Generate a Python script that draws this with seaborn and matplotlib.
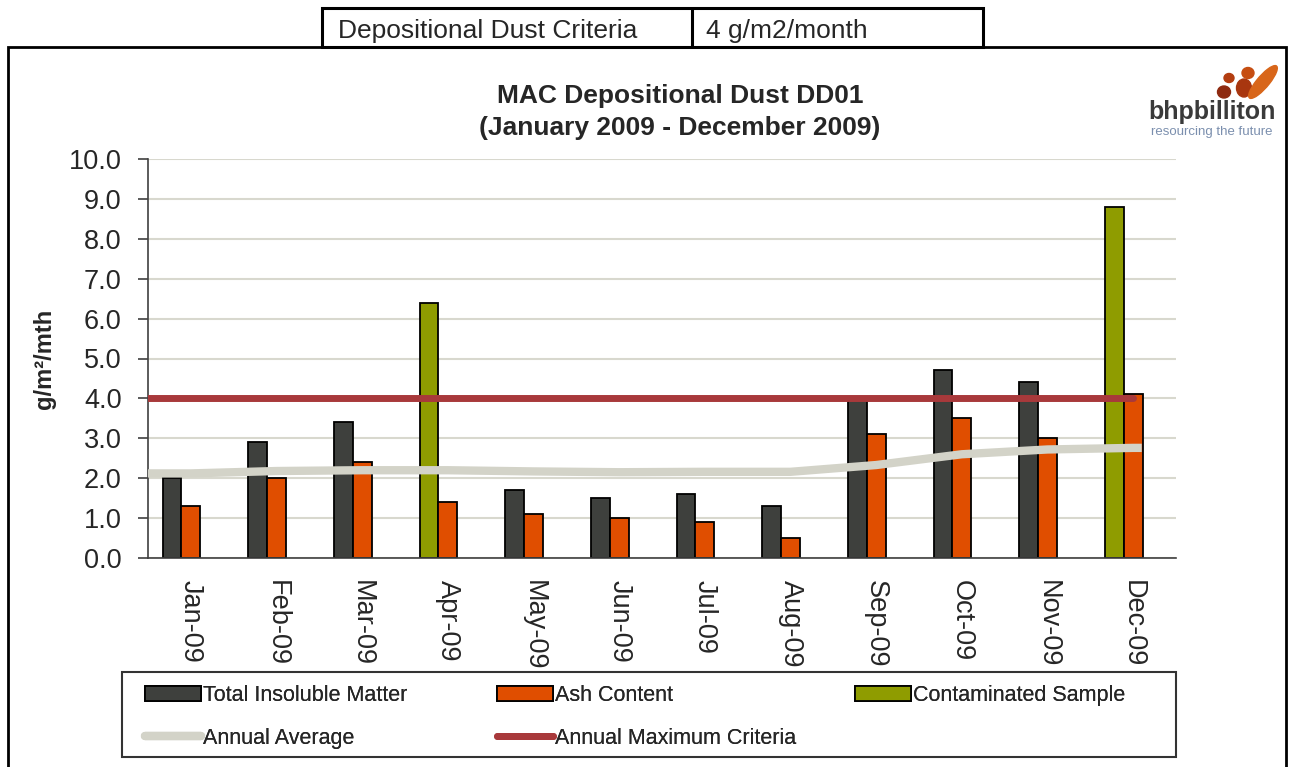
import numpy as np
import matplotlib
matplotlib.use("Agg")
import matplotlib.pyplot as plt
import seaborn as sns
from matplotlib.patches import Patch, Rectangle, Ellipse
from matplotlib.lines import Line2D

# === data ===
months = ["Jan-09", "Feb-09", "Mar-09", "Apr-09", "May-09", "Jun-09",
          "Jul-09", "Aug-09", "Sep-09", "Oct-09", "Nov-09", "Dec-09"]
total_insoluble = [2.0, 2.9, 3.4, np.nan, 1.7, 1.5, 1.6, 1.3, 4.0, 4.7, 4.4, np.nan]
contaminated = [np.nan, np.nan, np.nan, 6.4, np.nan, np.nan,
                np.nan, np.nan, np.nan, np.nan, np.nan, 8.8]
ash_content = [1.3, 2.0, 2.4, 1.4, 1.1, 1.0, 0.9, 0.5, 3.1, 3.5, 3.0, 4.1]
annual_average = [2.12, 2.18, 2.2, 2.2, 2.17, 2.15, 2.16, 2.16, 2.33, 2.6, 2.72, 2.76]
annual_max_criteria = 4.0

c_tim = "#3e403d"
c_ash = "#e04e00"
c_cont = "#8f9c00"
c_avg = "#d3d3c8"
c_max = "#a8393b"

sns.set_style("white")
plt.rcParams["font.family"] = ["Liberation Sans", "DejaVu Sans"]

W, H = 1294, 767
fig = plt.figure(figsize=(W / 100, H / 100), dpi=100)
ax = fig.add_axes([148 / W, 1 - 558 / H, (1176 - 148) / W, (558 - 159) / H])

bar_w = 0.22
bar_kw = dict(order=months, width=bar_w, edgecolor="black", linewidth=1.3,
              saturation=1, ax=ax, zorder=2)

# total insoluble + contaminated sit left of centre, ash at centre
n0 = len(ax.patches)
sns.barplot(x=months, y=total_insoluble, color=c_tim, **bar_kw)
sns.barplot(x=months, y=contaminated, color=c_cont, **bar_kw)
for p in ax.patches[n0:]:
    p.set_x(p.get_x() - bar_w)
sns.barplot(x=months, y=ash_content, color=c_ash, **bar_kw)

# lines (extended to the left axis like in Excel)
idx = np.arange(len(months))
avg_x = np.r_[-0.5, idx, idx[-1] + 0.1]
avg_y = np.r_[annual_average[0], annual_average, annual_average[-1]]
ax.plot(avg_x, avg_y, color=c_avg, lw=6, solid_capstyle="butt", zorder=3)
ax.plot([-0.5, idx[-1]], [annual_max_criteria] * 2, color=c_max, lw=5,
        solid_capstyle="round", zorder=3)

# axes cosmetics
ax.set_xlim(-0.5, len(months) - 0.5)
ax.set_ylim(0, 10)
ax.set_yticks(np.arange(0, 11, 1))
ax.set_yticklabels([f"{v:.1f}" for v in np.arange(0, 11, 1)], fontsize=19.5)
ax.set_xticks(idx)
ax.set_xticklabels(months, rotation=-90, fontsize=19.5, va="top", ha="center")
ax.set_xticks(np.arange(-0.5, len(months), 1), minor=True)
ax.tick_params(axis="x", which="major", length=0, pad=16)
ax.tick_params(axis="x", which="minor", length=7, width=1.2, color="#404040", direction="out")
ax.tick_params(axis="y", length=7, width=1.2, color="#404040", direction="out", left=True, pad=12)
ax.yaxis.grid(True, color="#d8d8ce", lw=1.5)
ax.set_axisbelow(True)
for s in ["top", "right"]:
    ax.spines[s].set_visible(False)
for s in ["left", "bottom"]:
    ax.spines[s].set_color("#404040")
    ax.spines[s].set_linewidth(1.2)
ax.set_xlabel("")
ax.set_ylabel("g/m²/mth", fontsize=17, fontweight="bold", labelpad=9)

# title
fig.text(680 / W, 1 - 96 / H, "MAC Depositional Dust DD01", ha="center", va="center",
         fontsize=19, fontweight="bold")
fig.text(680 / W, 1 - 128 / H, "(January 2009 - December 2009)", ha="center", va="center",
         fontsize=19, fontweight="bold")

# legend: three equal columns in a box
fig.patches.append(Rectangle((122 / W, 1 - 757 / H), (1176 - 122) / W, 85 / H,
                             transform=fig.transFigure, fill=False, ec="#333333", lw=1.5))
h_tim = Patch(fc=c_tim, ec="black", lw=1.3)
h_ash = Patch(fc=c_ash, ec="black", lw=1.3)
h_cont = Patch(fc=c_cont, ec="black", lw=1.3)
h_avg = Line2D([], [], color=c_avg, lw=6)
h_max = Line2D([], [], color=c_max, lw=5)
cols = [([h_tim, h_avg], ["Total Insoluble Matter", "Annual Average"], 145),
        ([h_ash, h_max], ["Ash Content", "Annual Maximum Criteria"], 497),
        ([h_cont], ["Contaminated Sample"], 855)]
for handles, labels, x0 in cols:
    lg = fig.legend(handles, labels, loc="upper left", bbox_to_anchor=(x0 / W, 1 - 685 / H),
                    frameon=False, fontsize=15.5, handlelength=2.6, handletextpad=0.1,
                    labelspacing=1.0, borderpad=0, borderaxespad=0)
    fig.add_artist(lg)

# outer chart border and header table
fig.patches.append(Rectangle((8 / W, -0.01), (1286 - 8) / W, 1 - 47 / H + 0.01,
                             transform=fig.transFigure, fill=False, ec="black", lw=2))
fig.patches.append(Rectangle((322 / W, 1 - 47 / H), (983 - 322) / W, 39 / H,
                             transform=fig.transFigure, fill=False, ec="black", lw=2.2))
fig.lines.append(Line2D([692 / W, 692 / W], [1 - 47 / H, 1 - 8 / H],
                        transform=fig.transFigure, color="black", lw=2.2))
fig.text(338 / W, 1 - 31 / H, "Depositional Dust Criteria", va="center", fontsize=19)
fig.text(706 / W, 1 - 31 / H, "4 g/m2/month", va="center", fontsize=19)

# logo
for (cx, cy, w, h, ang, col) in [(1224, 92, 13, 12, 0, "#8e2a10"),
                                 (1229, 78, 10, 9, 0, "#b33d10"),
                                 (1244, 88, 15, 18, 0, "#a8360f"),
                                 (1248, 73, 12, 11, 0, "#c64e12"),
                                 (1263, 82, 14, 36, -25, "#d8661a")]:
    fig.patches.append(Ellipse((cx / W, 1 - cy / H), w / W, h / H, angle=ang,
                               transform=fig.transFigure, color=col))
fig.text(1212 / W, 1 - 112 / H, "bhpbilliton", ha="center", va="center",
         fontsize=18, color="#3a3a3a", fontweight="semibold")
fig.text(1212 / W, 1 - 132 / H, "resourcing the future", ha="center", va="center",
         fontsize=9.5, color="#7b8fae")

fig.savefig("out.png", dpi=100)
